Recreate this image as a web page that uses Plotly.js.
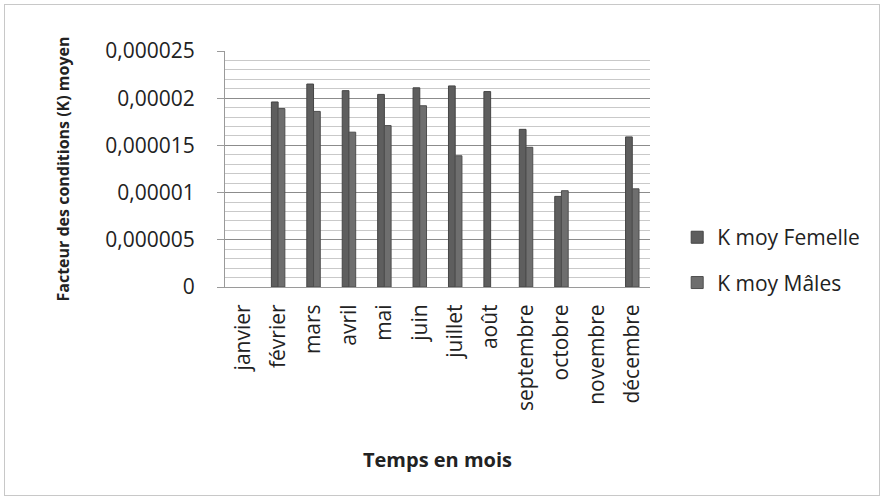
<!DOCTYPE html>
<html>
<head>
<meta charset="utf-8">
<script src="https://cdn.plot.ly/plotly-3.0.1.min.js"></script>
<style>
html,body{margin:0;padding:0;background:#fff;}
#frame{position:absolute;left:4px;top:4px;width:876px;height:492px;border:1px solid #c8c8c8;box-sizing:border-box;pointer-events:none;}
#chart{width:885px;height:500px;}
</style>
</head>
<body>
<div id="chart"></div>
<div id="frame"></div>
<script>
const months = ["janvier","février","mars","avril","mai","juin","juillet","août","septembre","octobre","novembre","décembre"];
const kFemelle = [null, 0.0000196, 0.0000215, 0.0000208, 0.0000204, 0.0000211, 0.0000213, 0.0000207, 0.0000167, 0.0000096, null, 0.0000159];
const kMales   = [null, 0.0000189, 0.0000186, 0.0000164, 0.0000171, 0.0000192, 0.0000139, null, 0.0000148, 0.0000102, null, 0.0000104];
const yTickVals = [0, 0.000005, 0.00001, 0.000015, 0.00002, 0.000025];
const yTickText = ["0","0,000005","0,00001","0,000015","0,00002","0,000025"];

const font = "'Open Sans', sans-serif";

const traces = [
  {type:"bar", name:"K moy Femelle", x:months, y:kFemelle, legendgroup:"f",
   marker:{color:"#5e5e5e", line:{color:"#454545", width:1}}},
  {type:"bar", name:"K moy Mâles", x:months, y:kMales, legendgroup:"m",
   marker:{color:"#6e6e6e", line:{color:"#4e4e4e", width:1}}}
];

const layout = {
  width:885, height:500,
  margin:{l:225, r:235, t:51, b:213},
  paper_bgcolor:"#ffffff", plot_bgcolor:"#ffffff",
  barmode:"group", bargap:0.62, bargroupgap:0,
  font:{family:font, size:20, color:"#222"},
  separators:", ",
  xaxis:{
    type:"category", tickangle:-90, showgrid:false,
    showline:true, linecolor:"#9a9a9a", linewidth:1,
    ticks:"", ticklabelstandoff:8, tickfont:{size:21, family:font, color:"#222"},
    title:{text:"Temps en mois", font:{size:20, family:font, color:"#222", weight:"bold"}, standoff:43}
  },
  yaxis:{
    range:[0,0.000025], tickvals:yTickVals, ticktext:yTickText,
    showgrid:true, gridcolor:"#8c8c8c", gridwidth:1,
    minor:{dtick:0.000001, showgrid:true, gridcolor:"#c9c9c9", gridwidth:1},
    showline:true, linecolor:"#9a9a9a", linewidth:1,
    ticks:"outside", ticklen:7, tickcolor:"#9a9a9a",
    ticklabelstandoff:18,
    zeroline:false,
    tickfont:{size:21, family:font, color:"#222"},
    title:{text:"Facteur des conditions (K) moyen", font:{size:16, family:font, color:"#222", weight:"bold"}, standoff:31}
  },
  legend:{x:1.064, y:0.114, xanchor:"left", yanchor:"middle", tracegroupgap:15,
    font:{size:21, family:font, color:"#222"}, bgcolor:"rgba(0,0,0,0)", traceorder:"grouped"},
  showlegend:true
};

Plotly.newPlot("chart", traces, layout, {displayModeBar:false, staticPlot:true});
</script>
</body>
</html>
